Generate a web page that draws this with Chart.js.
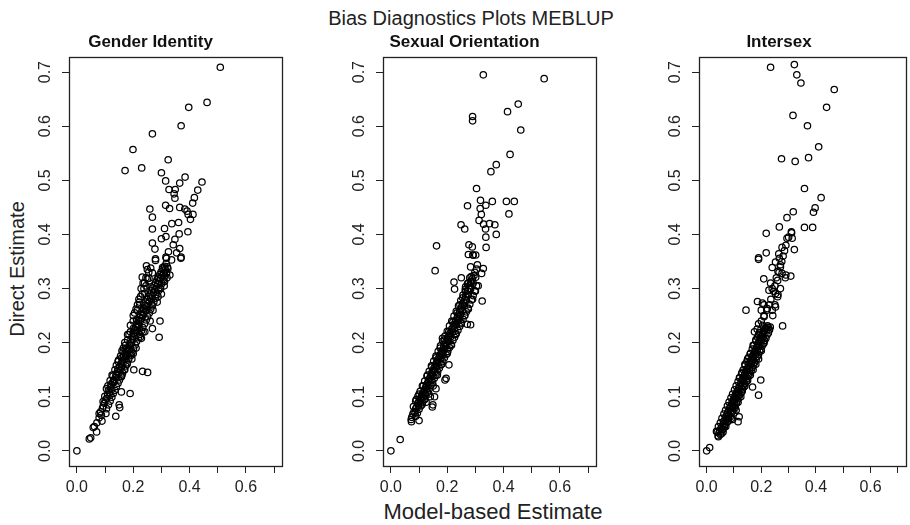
<!DOCTYPE html>
<html><head><meta charset="utf-8">
<script src="https://cdn.jsdelivr.net/npm/chart.js@4/dist/chart.umd.min.js"></script>
<style>
html,body{margin:0;padding:0;background:#fff;width:910px;height:525px;overflow:hidden;}
body{position:relative;font-family:"Liberation Sans",Arial,sans-serif;color:#222;}
canvas{position:absolute;}
.txt{position:absolute;text-align:center;white-space:nowrap;}
#mainTitle{left:271px;width:400px;top:6px;font-size:20px;line-height:24px;}
#xTitle{left:343px;width:300px;top:499px;font-size:22px;line-height:26px;}
#yTitle{left:-83px;width:200px;top:257px;font-size:20px;line-height:24px;transform:rotate(-90deg);}
</style></head>
<body>
<div id="mainTitle" class="txt">Bias Diagnostics Plots MEBLUP</div>
<div id="yTitle" class="txt">Direct Estimate</div>
<div id="xTitle" class="txt">Model-based Estimate</div>
<canvas id="c1" width="271" height="470" style="left:19px;top:30px"></canvas>
<canvas id="c2" width="271" height="470" style="left:333px;top:30px"></canvas>
<canvas id="c3" width="261" height="470" style="left:649px;top:30px"></canvas>
<script>
// ---- data ----
const panelTitles = ["Gender Identity", "Sexual Orientation", "Intersex"];
const tickValues = [0, 0.1, 0.2, 0.3, 0.4, 0.5, 0.6, 0.7];
const axisMin = -0.028, axisMax = 0.728;

// [model-based estimate, direct estimate]
const genderIdentity = [
[0.509,0.709],[0.462,0.644],[0.397,0.635],[0.370,0.601],[0.268,0.586],[0.199,0.557],[0.324,0.538],[0.230,0.523],[0.171,0.518],[0.300,0.514],
[0.384,0.506],[0.315,0.499],[0.444,0.497],[0.365,0.495],[0.349,0.483],[0.327,0.483],[0.429,0.482],[0.345,0.475],[0.417,0.468],[0.348,0.467],
[0.411,0.458],[0.315,0.454],[0.259,0.447],[0.329,0.448],[0.365,0.450],[0.383,0.447],[0.391,0.443],[0.395,0.437],[0.412,0.437],[0.403,0.428],
[0.268,0.432],[0.268,0.410],[0.311,0.411],[0.337,0.420],[0.361,0.422],[0.394,0.405],[0.363,0.401],[0.316,0.396],[0.300,0.392],[0.348,0.391],
[0.268,0.384],[0.277,0.373],[0.342,0.381],[0.365,0.374],[0.325,0.368],[0.354,0.366],[0.316,0.358],[0.370,0.358],[0.279,0.355],
[0.369,0.356],[0.336,0.353],[0.318,0.356],[0.279,0.352],[0.247,0.342],[0.304,0.339],[0.330,0.325],[0.318,0.328],[0.232,0.321],[0.256,0.319],
[0.268,0.329],[0.288,0.319],[0.311,0.313],[0.263,0.303],[0.297,0.300],[0.288,0.285],[0.241,0.291],[0.223,0.270],[0.267,0.270],[0.247,0.260],
[0.212,0.242],[0.295,0.240],[0.200,0.226],[0.268,0.226],[0.241,0.220],[0.292,0.210],[0.229,0.208],[0.176,0.189],[0.164,0.183],[0.194,0.177],
[0.146,0.165],[0.202,0.150],[0.233,0.147],[0.251,0.145],[0.158,0.137],[0.129,0.128],[0.158,0.109],[0.189,0.106],[0.117,0.103],[0.093,0.091],
[0.150,0.085],[0.152,0.080],[0.079,0.069],[0.103,0.069],[0.138,0.064],[0.089,0.055],[0.058,0.043],[0.070,0.035],[0.049,0.024],[0.044,0.022],[0.0,0.0],
[0.062,0.045],[0.071,0.052],[0.079,0.061],[0.084,0.072],[0.087,0.066],[0.091,0.079],[0.094,0.083],[0.097,0.088],[0.101,0.094],[0.099,0.101],
[0.106,0.097],[0.109,0.104],[0.112,0.112],[0.116,0.108],[0.119,0.117],[0.121,0.123],[0.124,0.114],[0.127,0.126],[0.131,0.131],[0.128,0.138],
[0.134,0.128],[0.137,0.136],[0.139,0.142],[0.142,0.139],[0.144,0.147],[0.146,0.152],[0.149,0.144],[0.151,0.156],[0.153,0.149],[0.156,0.161],
[0.158,0.155],[0.161,0.166],[0.159,0.172],[0.164,0.163],[0.166,0.175],[0.168,0.169],[0.171,0.181],[0.173,0.176],[0.175,0.187],[0.178,0.183],
[0.181,0.178],[0.183,0.192],[0.185,0.188],[0.187,0.198],[0.190,0.194],[0.192,0.205],[0.194,0.200],[0.196,0.211],[0.198,0.206],[0.201,0.217],
[0.203,0.212],[0.205,0.224],[0.207,0.219],[0.209,0.229],[0.211,0.222],[0.213,0.235],[0.216,0.228],[0.218,0.241],[0.220,0.233],[0.222,0.247],
[0.225,0.240],[0.227,0.252],[0.229,0.244],[0.231,0.258],[0.234,0.250],[0.236,0.263],[0.238,0.255],[0.241,0.269],[0.243,0.260],[0.245,0.275],
[0.248,0.266],[0.250,0.280],[0.252,0.272],[0.255,0.285],[0.257,0.276],[0.259,0.290],[0.262,0.282],[0.264,0.296],[0.267,0.287],[0.269,0.301],
[0.272,0.293],[0.274,0.306],[0.277,0.298],[0.279,0.311],[0.282,0.303],[0.284,0.316],[0.287,0.309],[0.289,0.321],[0.292,0.314],[0.294,0.326],
[0.297,0.319],[0.299,0.331],[0.302,0.324],[0.305,0.336],[0.308,0.329],[0.311,0.341],[0.314,0.335],[0.317,0.346],[0.321,0.340],
[0.200,0.250],[0.210,0.262],[0.222,0.275],[0.215,0.270],[0.232,0.290],[0.238,0.300],[0.226,0.285],[0.245,0.305],[0.250,0.318],[0.240,0.310],
[0.255,0.330],[0.262,0.338],[0.190,0.220],[0.185,0.215],[0.180,0.205],[0.172,0.195],[0.165,0.190],[0.155,0.175],[0.148,0.168],[0.140,0.158],
[0.135,0.150],[0.125,0.140],[0.118,0.130],[0.110,0.120],[0.105,0.115],[0.200,0.180],[0.195,0.170],[0.210,0.190],[0.225,0.210],[0.235,0.220],
[0.260,0.240],[0.270,0.260],[0.285,0.275],[0.300,0.290],[0.310,0.305],[0.320,0.320],[0.170,0.150],[0.160,0.140],[0.178,0.160],
[0.105,0.078],[0.112,0.085],[0.118,0.092],[0.124,0.099],[0.129,0.106],[0.135,0.112],[0.140,0.119],[0.146,0.125],[0.151,0.131],[0.157,0.138],
[0.162,0.144],[0.168,0.150],[0.173,0.157],[0.179,0.163],[0.184,0.170],[0.190,0.176],[0.196,0.183],[0.201,0.189],[0.207,0.196],[0.212,0.202],
[0.218,0.209],[0.223,0.215],[0.229,0.222],[0.234,0.228],[0.240,0.235],[0.246,0.242],[0.251,0.248],[0.257,0.255],[0.262,0.262],[0.268,0.268],
[0.273,0.275],[0.279,0.282],[0.284,0.289],[0.290,0.296],[0.296,0.302],[0.301,0.309],[0.307,0.316],[0.312,0.323],[0.318,0.330],[0.323,0.337],
[0.160,0.185],[0.170,0.200],[0.180,0.215],[0.190,0.232],[0.200,0.240],[0.205,0.255],[0.215,0.260],[0.220,0.280],[0.228,0.300],[0.235,0.310],
[0.245,0.320],[0.250,0.335]
];

const sexualOrientation = [
[0.328,0.695],[0.544,0.688],[0.452,0.641],[0.414,0.627],[0.290,0.618],[0.290,0.610],[0.461,0.593],[0.423,0.548],[0.374,0.529],[0.355,0.516],
[0.304,0.485],[0.318,0.463],[0.360,0.461],[0.410,0.461],[0.438,0.461],[0.272,0.453],[0.337,0.454],[0.317,0.448],[0.321,0.437],[0.419,0.438],
[0.313,0.426],[0.249,0.418],[0.262,0.410],[0.329,0.419],[0.350,0.420],[0.369,0.418],[0.336,0.410],[0.374,0.400],[0.337,0.395],[0.162,0.379],
[0.277,0.381],[0.289,0.377],[0.338,0.376],[0.275,0.363],[0.301,0.362],[0.291,0.362],[0.157,0.333],[0.224,0.312],[0.226,0.299],[0.250,0.320],
[0.324,0.277],[0.283,0.340],[0.307,0.344],[0.328,0.337],[0.322,0.328],[0.292,0.362],[0.283,0.313],[0.265,0.303],[0.271,0.234],[0.283,0.233],
[0.183,0.208],[0.206,0.159],[0.192,0.131],[0.147,0.081],[0.100,0.056],[0.073,0.054],[0.072,0.058],[0.033,0.021],[0.0,0.0],[0.196,0.134],[0.149,0.085],
[0.074,0.062],[0.078,0.068],[0.082,0.072],[0.086,0.070],[0.088,0.078],[0.092,0.082],[0.095,0.088],[0.098,0.084],[0.100,0.092],[0.103,0.096],
[0.105,0.090],[0.108,0.100],[0.111,0.105],[0.113,0.098],[0.116,0.108],[0.119,0.113],[0.121,0.105],[0.123,0.117],[0.126,0.121],[0.128,0.114],
[0.130,0.125],[0.133,0.129],[0.135,0.122],[0.137,0.133],[0.140,0.137],[0.142,0.130],[0.144,0.141],[0.146,0.145],[0.149,0.139],[0.151,0.149],
[0.153,0.153],[0.156,0.147],[0.158,0.157],[0.160,0.161],[0.163,0.155],[0.165,0.165],[0.167,0.169],[0.170,0.163],[0.172,0.173],[0.174,0.177],
[0.177,0.171],[0.179,0.181],[0.181,0.185],[0.184,0.179],[0.186,0.189],[0.188,0.193],[0.191,0.187],[0.193,0.197],[0.195,0.201],[0.198,0.195],
[0.200,0.205],[0.202,0.209],[0.205,0.203],[0.207,0.213],[0.209,0.217],[0.212,0.211],[0.214,0.221],[0.216,0.225],[0.219,0.219],[0.221,0.229],
[0.223,0.233],[0.226,0.227],[0.228,0.237],[0.230,0.241],[0.233,0.235],[0.235,0.245],[0.237,0.249],[0.240,0.243],[0.242,0.253],[0.244,0.257],
[0.247,0.251],[0.249,0.262],[0.251,0.266],[0.254,0.259],[0.256,0.270],[0.258,0.275],[0.261,0.268],[0.263,0.280],[0.265,0.285],[0.268,0.278],
[0.270,0.290],[0.272,0.296],[0.275,0.288],[0.277,0.300],[0.280,0.306],[0.283,0.299],[0.286,0.312],[0.289,0.318],[0.292,0.310],[0.295,0.324],
[0.298,0.330],[0.301,0.321],[0.304,0.336],
[0.090,0.095],[0.100,0.105],[0.115,0.120],[0.130,0.140],[0.145,0.155],[0.160,0.172],[0.175,0.190],[0.190,0.205],[0.205,0.220],[0.220,0.238],
[0.235,0.255],[0.245,0.270],[0.255,0.283],[0.265,0.295],[0.275,0.310],[0.285,0.322],[0.110,0.085],[0.120,0.095],[0.135,0.105],[0.150,0.120],
[0.155,0.100],[0.165,0.140],[0.180,0.160],[0.200,0.180],[0.215,0.195],[0.230,0.215],[0.250,0.235],[0.262,0.250],[0.275,0.262],[0.290,0.280],
[0.300,0.295],[0.310,0.305],[0.125,0.090],[0.140,0.100],[0.160,0.115],
[0.088,0.064],[0.094,0.070],[0.100,0.077],[0.106,0.083],[0.112,0.089],[0.118,0.096],[0.124,0.102],[0.130,0.108],[0.136,0.115],[0.142,0.121],
[0.148,0.127],[0.154,0.134],[0.160,0.140],[0.166,0.146],[0.172,0.153],[0.178,0.159],[0.184,0.165],[0.190,0.172],[0.196,0.178],[0.202,0.184],
[0.208,0.191],[0.214,0.197],[0.220,0.204],[0.226,0.210],[0.232,0.217],[0.238,0.223],[0.244,0.230],[0.250,0.237],[0.256,0.243],[0.262,0.250],
[0.268,0.257],[0.274,0.264],[0.280,0.271],[0.286,0.279],[0.292,0.287],[0.298,0.296],[0.304,0.305],
[0.080,0.082],[0.088,0.092],[0.096,0.101],[0.104,0.110],[0.112,0.120],[0.120,0.129],[0.128,0.138],[0.136,0.147],[0.144,0.157],[0.152,0.166],
[0.160,0.175],[0.168,0.184],[0.176,0.194],[0.184,0.203],[0.192,0.212],[0.200,0.221],[0.208,0.231],[0.216,0.240],[0.224,0.249],[0.232,0.258],
[0.240,0.268],[0.248,0.278],[0.256,0.288],[0.264,0.298],[0.272,0.309],[0.280,0.320]
];

const intersex = [
[0.234,0.709],[0.321,0.714],[0.330,0.695],[0.345,0.680],[0.467,0.668],[0.439,0.635],[0.316,0.620],[0.369,0.601],[0.410,0.562],[0.274,0.540],
[0.324,0.535],[0.373,0.542],[0.358,0.485],[0.419,0.468],[0.397,0.449],[0.391,0.441],[0.317,0.442],[0.294,0.431],[0.266,0.414],[0.358,0.413],
[0.388,0.413],[0.218,0.402],[0.311,0.403],[0.313,0.393],[0.294,0.393],[0.276,0.376],[0.321,0.372],[0.218,0.366],[0.264,0.364],[0.190,0.357],
[0.266,0.356],[0.190,0.354],[0.252,0.349],[0.270,0.344],[0.240,0.339],[0.261,0.332],[0.276,0.328],[0.288,0.320],[0.308,0.323],[0.209,0.318],
[0.234,0.310],[0.228,0.297],[0.252,0.291],[0.261,0.289],[0.186,0.276],[0.204,0.273],[0.222,0.263],[0.252,0.266],[0.144,0.260],[0.278,0.231],
[0.210,0.248],[0.242,0.250],[0.198,0.131],[0.190,0.103],[0.168,0.118],[0.119,0.063],[0.115,0.054],[0.108,0.075],[0.011,0.006],[0.0,0.0],
[0.043,0.026],[0.039,0.035],
[0.042,0.028],[0.045,0.033],[0.048,0.038],[0.050,0.030],[0.053,0.042],[0.056,0.046],[0.058,0.040],[0.061,0.050],[0.063,0.055],[0.066,0.048],
[0.068,0.059],[0.070,0.063],[0.073,0.057],[0.075,0.067],[0.077,0.071],[0.080,0.065],[0.082,0.075],[0.084,0.079],[0.087,0.073],[0.089,0.083],
[0.091,0.087],[0.094,0.081],[0.096,0.091],[0.098,0.095],[0.101,0.089],[0.103,0.099],[0.105,0.103],[0.108,0.097],[0.110,0.107],[0.112,0.111],
[0.115,0.105],[0.117,0.115],[0.119,0.119],[0.122,0.113],[0.124,0.123],[0.126,0.127],[0.129,0.121],[0.131,0.131],[0.133,0.135],[0.136,0.129],
[0.138,0.139],[0.140,0.143],[0.143,0.137],[0.145,0.147],[0.147,0.151],[0.150,0.145],[0.152,0.155],[0.154,0.159],[0.157,0.153],[0.159,0.163],
[0.161,0.167],[0.164,0.161],[0.166,0.171],[0.168,0.175],[0.171,0.169],[0.173,0.179],[0.175,0.183],[0.178,0.177],[0.180,0.187],[0.182,0.191],
[0.185,0.185],[0.187,0.195],[0.189,0.199],[0.192,0.193],[0.194,0.203],[0.196,0.207],[0.199,0.201],[0.201,0.211],[0.203,0.215],[0.206,0.209],
[0.208,0.219],[0.210,0.223],[0.213,0.217],[0.215,0.226],[0.218,0.229],[0.221,0.224],[0.223,0.231],[0.226,0.228],
[0.060,0.035],[0.070,0.045],[0.080,0.055],[0.090,0.060],[0.100,0.070],[0.095,0.058],[0.105,0.080],[0.115,0.090],[0.125,0.100],[0.130,0.110],
[0.140,0.120],[0.150,0.130],[0.160,0.140],[0.170,0.150],[0.180,0.160],[0.190,0.170],[0.200,0.185],[0.210,0.200],[0.120,0.135],[0.130,0.145],
[0.140,0.160],[0.150,0.170],[0.160,0.180],[0.170,0.195],[0.180,0.205],[0.190,0.215],[0.175,0.220],[0.185,0.225],[0.190,0.235],[0.200,0.240],
[0.210,0.250],[0.220,0.260],[0.230,0.270],[0.235,0.280],[0.245,0.295],[0.250,0.305],[0.260,0.315],[0.240,0.300],[0.255,0.320],[0.265,0.330],
[0.270,0.340],[0.275,0.350],[0.280,0.360],[0.285,0.370],[0.290,0.380],[0.300,0.395],[0.310,0.405],[0.200,0.260],[0.210,0.270],[0.240,0.260],
[0.250,0.270],[0.260,0.285],[0.270,0.300],[0.290,0.325],
[0.055,0.032],[0.060,0.040],[0.065,0.044],[0.070,0.050],[0.076,0.054],[0.080,0.060],[0.086,0.063],[0.090,0.069],[0.095,0.073],[0.100,0.079],
[0.104,0.084],[0.109,0.088],[0.113,0.094],[0.118,0.098],[0.122,0.104],[0.127,0.108],[0.131,0.114],[0.136,0.118],[0.140,0.124],[0.145,0.128],
[0.149,0.134],[0.154,0.138],[0.158,0.144],[0.163,0.148],[0.167,0.154],[0.172,0.158],[0.176,0.164],[0.181,0.168],[0.185,0.174],[0.190,0.178],
[0.194,0.184],[0.199,0.188],[0.203,0.194],[0.208,0.198],[0.212,0.204],[0.217,0.208],[0.221,0.214],[0.226,0.218],[0.230,0.224],[0.233,0.229],
[0.036,0.036],[0.043,0.045],[0.050,0.052],[0.056,0.060],[0.063,0.068],[0.069,0.075],[0.076,0.083],[0.082,0.090],[0.089,0.098],[0.095,0.105],
[0.102,0.113],[0.108,0.120],[0.115,0.128],[0.121,0.135],[0.128,0.143],[0.134,0.150],[0.141,0.158],[0.147,0.165],[0.154,0.173],[0.160,0.180],
[0.167,0.188],[0.173,0.195],[0.180,0.203],[0.186,0.210],[0.193,0.218],[0.199,0.225],[0.205,0.232]
];

// ---- drawing ----
const FONT = "'Liberation Sans', Arial, sans-serif";
const TEXT = '#222';

const boxPlugin = {
  id: 'box',
  afterDraw(chart) {
    const a = chart.chartArea, ctx = chart.ctx;
    ctx.save();
    ctx.strokeStyle = '#222';
    ctx.lineWidth = 1.3;
    ctx.strokeRect(Math.round(a.left) + 0.5, Math.round(a.top) + 0.5, Math.round(a.right - a.left), Math.round(a.bottom - a.top));
    ctx.restore();
  }
};

function makePanel(id, title, pts, rightPad) {
  new Chart(document.getElementById(id), {
    type: 'scatter',
    data: { datasets: [{
      data: pts.map(p => ({ x: p[0], y: p[1] })),
      pointRadius: 3.2, pointHoverRadius: 3.2, pointBorderWidth: 1.25,
      borderColor: '#000', backgroundColor: 'rgba(0,0,0,0)'
    }]},
    options: {
      responsive: false, animation: false, devicePixelRatio: 1,
      layout: { padding: { left: 0, right: rightPad, top: 0, bottom: 0 } },
      plugins: {
        legend: { display: false }, tooltip: { enabled: false },
        title: { display: true, text: title, color: '#111',
          font: { family: FONT, size: 17, weight: 'bold' }, padding: { top: 2, bottom: 4.6 } }
      },
      scales: {
        x: {
          type: 'linear', min: axisMin, max: axisMax,
          afterBuildTicks: s => { s.ticks = tickValues.map(v => ({ value: v })); },
          afterFit: s => { s.height = 34; },
          border: { display: false },
          grid: { drawOnChartArea: false, drawTicks: true, tickLength: 7, color: '#222', lineWidth: 1 },
          ticks: { autoSkip: false, maxRotation: 0, minRotation: 0, padding: 5, color: TEXT,
            font: { family: FONT, size: 16 },
            callback: (v, i) => (i % 2 === 0 ? Number(v).toFixed(1) : '') }
        },
        y: {
          type: 'linear', min: axisMin, max: axisMax,
          afterBuildTicks: s => { s.ticks = tickValues.map(v => ({ value: v })); },
          afterFit: s => { s.width = 50; },
          border: { display: false },
          grid: { drawOnChartArea: false, drawTicks: true, tickLength: 7, color: '#222', lineWidth: 1 },
          ticks: { autoSkip: false, minRotation: 90, maxRotation: 90, crossAlign: 'center', padding: 5, color: TEXT,
            font: { family: FONT, size: 16 },
            callback: v => Number(v).toFixed(1) }
        }
      }
    },
    plugins: [boxPlugin]
  });
}

makePanel('c1', panelTitles[0], genderIdentity, 8);
makePanel('c2', panelTitles[1], sexualOrientation, 8);
makePanel('c3', panelTitles[2], intersex, 1);
</script>
</body></html>
